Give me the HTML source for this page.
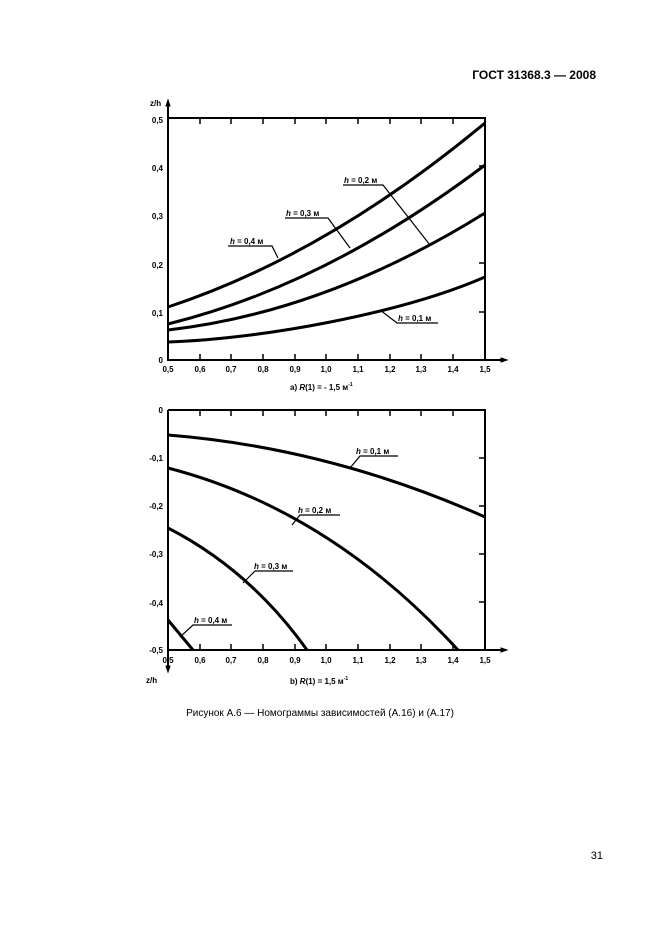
<!DOCTYPE html>
<html><head><meta charset="utf-8"><style>
body{margin:0;background:#fff;}
svg{display:block}
text{font-family:"Liberation Sans",sans-serif;}
</style></head><body>
<svg width="661" height="936" viewBox="0 0 661 936" xmlns="http://www.w3.org/2000/svg">
<rect width="661" height="936" fill="#fff"/>
<text x="596" y="79" font-size="12" font-weight="bold" text-anchor="end">ГОСТ 31368.3 — 2008</text>

<!-- Chart a -->
<g stroke="#000" fill="none">
<path d="M168,104 V360 H503" stroke-width="2"/>
<path d="M168,118 H485 V360" stroke-width="2"/>
<path d="M168,100 l-2,6 h4z" fill="#000" stroke-width="1"/>
<path d="M507,360 l-6,-2 v4z" fill="#000" stroke-width="1"/>
<g stroke-width="1.5">
<path d="M200,118v6M231,118v6M263,118v6M295,118v6M326,118v6M358,118v6M390,118v6M421,118v6M453,118v6"/>
<path d="M200,360v-6M231,360v-6M263,360v-6M295,360v-6M326,360v-6M358,360v-6M390,360v-6M421,360v-6M453,360v-6"/>
<path d="M485,166h-6M485,215h-6M485,263h-6M485,312h-6"/>
</g>
<g stroke-width="3">
<path d="M168,307 Q326,255 485,123"/>
<path d="M168,324 Q326,285 485,165"/>
<path d="M168,330 Q326,312 485,213"/>
<path d="M168,342 C260,339 400,314 485,277"/>
</g>
<g stroke-width="1.2">
<path d="M343,185H383L430,245"/>
<path d="M285,218H328L350,248"/>
<path d="M228,246H272L278,258"/>
<path d="M438,323H397L380,310"/>
</g>
</g>
<g font-size="8" font-weight="bold">
<text x="163" y="123" text-anchor="end">0,5</text>
<text x="163" y="171" text-anchor="end">0,4</text>
<text x="163" y="219" text-anchor="end">0,3</text>
<text x="163" y="268" text-anchor="end">0,2</text>
<text x="163" y="316" text-anchor="end">0,1</text>
<text x="163" y="363" text-anchor="end">0</text>
<text x="150" y="106">z/h</text>
<g text-anchor="middle">
<text x="168" y="372">0,5</text><text x="200" y="372">0,6</text><text x="231" y="372">0,7</text><text x="263" y="372">0,8</text><text x="295" y="372">0,9</text><text x="326" y="372">1,0</text><text x="358" y="372">1,1</text><text x="390" y="372">1,2</text><text x="421" y="372">1,3</text><text x="453" y="372">1,4</text><text x="485" y="372">1,5</text>
</g>
<text x="290" y="390">а) <tspan font-style="italic">R</tspan>(1) = - 1,5 м<tspan font-size="5" dy="-4">-1</tspan></text>
<text x="344" y="183"><tspan font-style="italic">h</tspan> = 0,2 м</text>
<text x="286" y="216"><tspan font-style="italic">h</tspan> = 0,3 м</text>
<text x="230" y="244"><tspan font-style="italic">h</tspan> = 0,4 м</text>
<text x="398" y="321"><tspan font-style="italic">h</tspan> = 0,1 м</text>
</g>

<!-- Chart b -->
<g stroke="#000" fill="none">
<path d="M168,410 V666 M168,650 H503" stroke-width="2"/>
<path d="M168,410 H485 V650" stroke-width="2"/>
<path d="M168,672 l-2,-6 h4z" fill="#000" stroke-width="1"/>
<path d="M507,650 l-6,-2 v4z" fill="#000" stroke-width="1"/>
<g stroke-width="1.5">
<path d="M200,410v6M231,410v6M263,410v6M295,410v6M326,410v6M358,410v6M390,410v6M421,410v6M453,410v6"/>
<path d="M200,650v-6M231,650v-6M263,650v-6M295,650v-6M326,650v-6M358,650v-6M390,650v-6M421,650v-6M453,650v-6"/>
<path d="M485,458h-6M485,506h-6M485,554h-6M485,602h-6"/>
</g>
<g stroke-width="3">
<path d="M168,435 Q330,448 485,517"/>
<path d="M168,468 Q330,510 458,650"/>
<path d="M168,528 Q250,570 307,650"/>
<path d="M168,620 L193,650"/>
</g>
<g stroke-width="1.2">
<path d="M398,456H360L350,468"/>
<path d="M340,515H300L292,525"/>
<path d="M293,571H255L243,583"/>
<path d="M232,625H193L180,637"/>
</g>
</g>
<g font-size="8" font-weight="bold">
<text x="163" y="413" text-anchor="end">0</text>
<text x="163" y="461" text-anchor="end">-0,1</text>
<text x="163" y="509" text-anchor="end">-0,2</text>
<text x="163" y="557" text-anchor="end">-0,3</text>
<text x="163" y="606" text-anchor="end">-0,4</text>
<text x="163" y="653" text-anchor="end">-0,5</text>
<text x="146" y="683">z/h</text>
<g text-anchor="middle">
<text x="168" y="663">0,5</text><text x="200" y="663">0,6</text><text x="231" y="663">0,7</text><text x="263" y="663">0,8</text><text x="295" y="663">0,9</text><text x="326" y="663">1,0</text><text x="358" y="663">1,1</text><text x="390" y="663">1,2</text><text x="421" y="663">1,3</text><text x="453" y="663">1,4</text><text x="485" y="663">1,5</text>
</g>
<text x="290" y="684">b) <tspan font-style="italic">R</tspan>(1) = 1,5 м<tspan font-size="5" dy="-4">-1</tspan></text>
<text x="356" y="454"><tspan font-style="italic">h</tspan> = 0,1 м</text>
<text x="298" y="513"><tspan font-style="italic">h</tspan> = 0,2 м</text>
<text x="254" y="569"><tspan font-style="italic">h</tspan> = 0,3 м</text>
<text x="194" y="623"><tspan font-style="italic">h</tspan> = 0,4 м</text>
</g>

<text x="320" y="716" font-size="10" text-anchor="middle">Рисунок А.6 — Номограммы зависимостей (А.16) и (А.17)</text>
<text x="603" y="859" font-size="11" text-anchor="end">31</text>
</svg>
</body></html>
